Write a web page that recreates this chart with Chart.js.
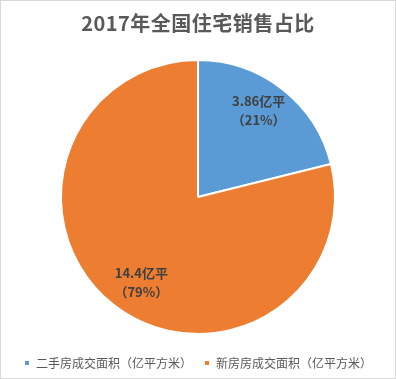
<!DOCTYPE html>
<html>
<head>
<meta charset="utf-8">
<script src="https://cdn.jsdelivr.net/npm/chart.js@4/dist/chart.umd.min.js"></script>
<style>
  html, body { margin: 0; padding: 0; background: #fff; }
  #wrap { width: 396px; height: 379px; }
</style>
</head>
<body>
<div id="wrap"><canvas id="chart-pie"></canvas></div>
<script>
// Chart data
const titleText = '2017年全国住宅销售占比';
const categories = ['二手房成交面积（亿平方米）', '新房房成交面积（亿平方米）'];
const areaValues = [3.86, 14.4];
const valueLabels = ['3.86亿平', '14.4亿平'];
const percentLabels = ['（21%）', '（79%）'];
const sliceColors = ['#5B9BD5', '#ED7D31'];

const fontFamily = '"Noto Sans CJK SC", "Noto Sans", sans-serif';

// Title + thin frame, drawn on the canvas
const titlePlugin = {
    id: 'titleFrame',
    afterDraw(chart) {
        const ctx = chart.ctx;
        ctx.save();
        ctx.strokeStyle = '#d9d9d9';
        ctx.lineWidth = 1;
        ctx.strokeRect(0.5, 0.5, chart.width - 1, chart.height - 1);
        ctx.font = 'bold 20px ' + fontFamily;
        ctx.fillStyle = '#595959';
        ctx.textAlign = 'center';
        ctx.textBaseline = 'middle';
        ctx.letterSpacing = '0.5px';
        ctx.fillText(titleText, chart.width / 2, 23);
        ctx.restore();
    }
};

// Labels inside each slice
const sliceLabels = {
    id: 'sliceLabels',
    afterDatasetsDraw(chart) {
        const ctx = chart.ctx;
        const meta = chart.getDatasetMeta(0);
        ctx.save();
        ctx.font = 'bold 13px ' + fontFamily;
        ctx.fillStyle = '#404040';
        ctx.textAlign = 'center';
        ctx.textBaseline = 'middle';
        meta.data.forEach((arc, i) => {
            const mid = (arc.startAngle + arc.endAngle) / 2 - 0.08;
            const d = arc.outerRadius * 0.75;
            const x = arc.x + Math.cos(mid) * d;
            const y = arc.y + Math.sin(mid) * d;
            ctx.fillText(valueLabels[i], x + (i === 0 ? 4 : 0), y - 10);
            ctx.fillText(percentLabels[i], x + (i === 0 ? 4 : 0), y + 9);
        });
        ctx.restore();
    }
};

new Chart(document.getElementById('chart-pie').getContext('2d'), {
    type: 'pie',
    data: {
        labels: categories,
        datasets: [{
            data: areaValues,
            backgroundColor: sliceColors,
            borderColor: '#ffffff',
            borderWidth: 2,
            radius: 137
        }]
    },
    options: {
        responsive: true,
        maintainAspectRatio: false,
        animation: false,
        layout: { padding: { top: 49, bottom: 0 } },
        plugins: {
            title: { display: false },
            tooltip: { enabled: false },
            legend: {
                position: 'bottom',
                labels: {
                    boxWidth: 6,
                    boxHeight: 6,
                    padding: 12,
                    color: '#595959',
                    font: { family: fontFamily, size: 12 }
                }
            }
        }
    },
    plugins: [sliceLabels, titlePlugin]
});
</script>
</body>
</html>
